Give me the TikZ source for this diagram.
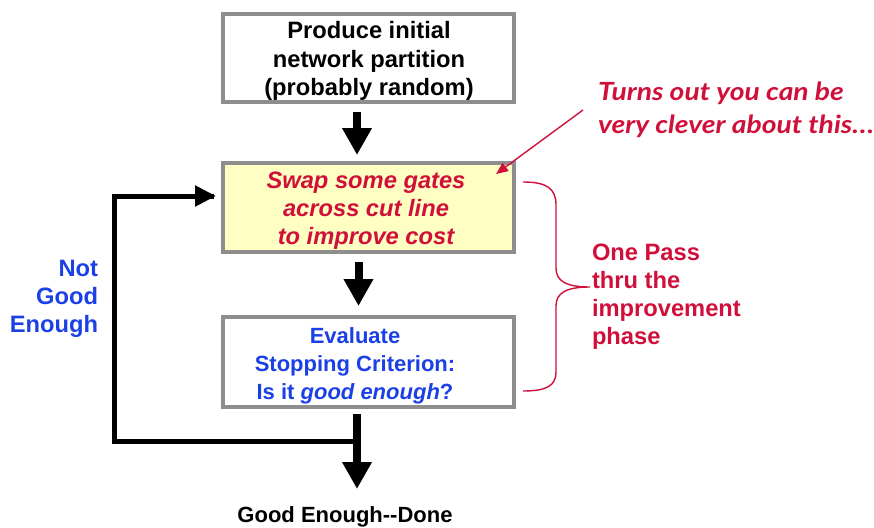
\documentclass[tikz,border=0pt]{standalone}
\usepackage{fontspec}
\setmainfont{Liberation Sans}
\newfontfamily\humfont{Lato}[FakeStretch=1.13]
\usetikzlibrary{arrows.meta}
\definecolor{boxgray}{HTML}{8E8E8E}
\definecolor{boxyellow}{HTML}{FFFFC4}
\definecolor{annred}{HTML}{D0103A}
\definecolor{annblue}{HTML}{1A40E6}
\tikzset{
  x=1pt, y=-1pt,
  box/.style={draw=boxgray, line width=4.5pt, minimum width=291pt, inner sep=0pt, outer sep=0pt, align=center},
  txt/.style={inner sep=0pt, outer sep=0pt, font=\bfseries\fontsize{22}{28}\selectfont},
  bigtxt/.style={inner sep=0pt, outer sep=0pt, font=\bfseries\fontsize{23.7}{28}\selectfont},
  flow/.style={line width=8pt, -{Triangle[width=28pt,length=27pt]}},
  loopline/.style={line width=5pt},
  looparrow/.style={line width=5pt, -{Triangle[width=20pt,length=21pt]}},
  thinred/.style={draw=annred, line width=1.4pt},
}
\begin{document}
\begin{tikzpicture}
\useasboundingbox (0,0) rectangle (874,527);
% boxes
\node[box, fill=white, minimum height=88pt] (init) at (368.5,58) {};
\node[bigtxt, anchor=base, align=center] (inittxt) at (369,95) {Produce initial\\network partition\\(probably random)};
\node[box, fill=boxyellow, minimum height=89pt] (swap) at (368.5,207.5) {};
\node[bigtxt, anchor=base, align=center, text=annred, font=\bfseries\itshape\fontsize{23.7}{28}\selectfont] (swaptxt) at (366,244) {Swap some gates\\across cut line\\to improve cost};
\node[box, fill=white, minimum height=90pt] (eval) at (368.5,362) {};
\node[txt, anchor=base, align=center, text=annblue] (evaltxt) at (355,399) {Evaluate\\Stopping Criterion:\\Is it \textit{good enough}?};
% flow arrows
\coordinate (a1s) at (357,112);
\coordinate (a1e) at (357,155);
\draw[flow] (a1s) -- (a1e);
\coordinate (a2s) at (358.5,262);
\coordinate (a2e) at (358.5,306);
\draw[flow] (a2s) -- (a2e);
\coordinate (a3s) at (357,414);
\coordinate (a3e) at (357,489);
\draw[flow] (a3s) -- (a3e);
% loop back
\coordinate (junc) at (357,441.5);
\coordinate (lcorner) at (114.5,441.5);
\coordinate (ucorner) at (114.5,196);
\coordinate (loopend) at (216,196);
\draw[loopline] (junc) -- (lcorner) -- (ucorner) -- ([xshift=-2pt]loopend);
\draw[looparrow] (ucorner) -- (loopend);
% labels
\node[bigtxt, anchor=base east, align=right, text=annblue] (notgood) at (98,332) {Not\\Good\\Enough};
\node[txt, anchor=base] (done) at (345,522) {Good Enough{-}{-}Done};
\node[bigtxt, anchor=base west, align=left, text=annred] (onepass) at (592,344) {One Pass\\thru the\\improvement\\phase};
\node[inner sep=0pt, outer sep=0pt, anchor=base west, align=left, text=annred, font=\humfont\bfseries\itshape\fontsize{25}{33}\selectfont] (clever) at (598,133) {Turns out you can be\\very clever about this\dots};
% annotation arrow
\coordinate (cs) at (583,110);
\coordinate (ce) at (496,174);
\draw[thinred, -{Triangle[width=10pt,length=12pt]}] (cs) -- (ce);
% brace
\coordinate (bt) at (523,182);
\coordinate (bm) at (590,287);
\coordinate (bb) at (523,391);
\draw[thinred] (bt) .. controls (546,182) and (556,188) .. (556,205) -- (556,268)
  .. controls (556,281) and (566,287) .. (bm)
  .. controls (566,287) and (556,293) .. (556,306) -- (556,372)
  .. controls (556,386) and (546,391) .. (bb);
\end{tikzpicture}
\end{document}
